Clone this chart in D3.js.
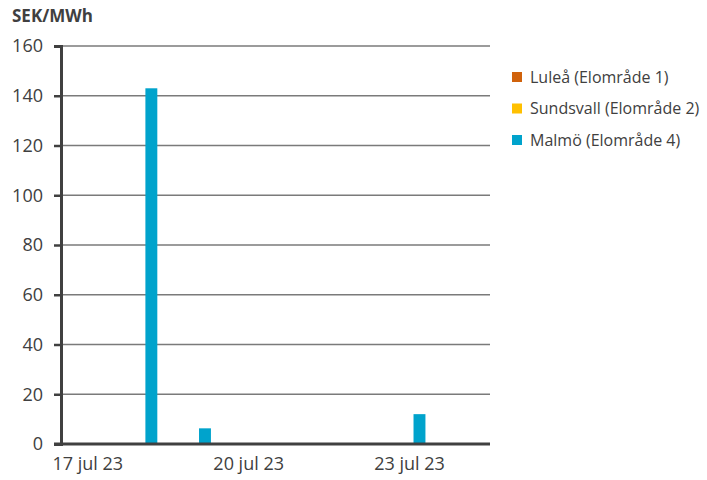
<!DOCTYPE html>
<html>
<head>
<meta charset="utf-8">
<script src="https://cdn.jsdelivr.net/npm/d3@7"></script>
<style>
  body { margin: 0; background: #fff; }
  text { font-family: "Open Sans", sans-serif; fill: #404040; }
</style>
</head>
<body>
<div id="chart"></div>
<script>
const WIDTH = 707;
const HEIGHT = 480;

const days = ["17 jul 23", "18 jul 23", "19 jul 23", "20 jul 23", "21 jul 23", "22 jul 23", "23 jul 23", "24 jul 23"];
const shownDays = ["17 jul 23", "20 jul 23", "23 jul 23"];
const seriesNames = ["Luleå (Elområde 1)", "Sundsvall (Elområde 2)", "Malmö (Elområde 4)"];
const seriesColors = ["#d0620c", "#ffc000", "#00a3cc"];
const lulea = [0, 0, 0, 0, 0, 0, 0, 0];
const sundsvall = [0, 0, 0, 0, 0, 0, 0, 0];
const malmo = [0, 143, 6.3, 0, 0, 0, 12, 0];
const yTicks = [0, 20, 40, 60, 80, 100, 120, 140, 160];

function main(){
    let series = [lulea, sundsvall, malmo];
    let margin = {left: 61, right: 217, top: 46, bottom: 36};

    let svg = d3.select("#chart")
        .append("svg")
        .attr("width", WIDTH)
        .attr("height", HEIGHT);

    let x = d3.scaleBand()
        .domain(days)
        .range([margin.left, WIDTH - margin.right]);

    // series bars sit side by side, group a bit left of the day centre
    let xInner = d3.scaleBand()
        .domain(seriesNames)
        .range([-2, x.bandwidth() - 2])
        .paddingInner(0)
        .paddingOuter(0.75);

    let y = d3.scaleLinear()
        .domain([0, 160])
        .range([HEIGHT - margin.bottom, margin.top]);

    // gridlines
    svg.append("g")
        .selectAll("line")
        .data(yTicks.slice(1))
        .enter()
        .append("line")
        .attr("x1", margin.left)
        .attr("x2", WIDTH - margin.right)
        .attr("y1", d => y(d))
        .attr("y2", d => y(d))
        .style("stroke", "#7a7a7a")
        .style("stroke-width", 1.5);

    // bars
    series.forEach((vals, s) => {
        svg.append("g")
            .selectAll("rect")
            .data(vals)
            .enter()
            .append("rect")
            .attr("x", (d, i) => x(days[i]) + xInner(seriesNames[s]))
            .attr("width", xInner.bandwidth())
            .attr("y", d => y(d))
            .attr("height", d => y(0) - y(d))
            .style("fill", seriesColors[s]);
    });

    // y axis
    let yAxis = svg.append("g")
        .attr("transform", `translate(${margin.left},0)`)
        .call(d3.axisLeft(y).tickValues(yTicks).tickSize(7).tickPadding(11));
    yAxis.select(".domain").style("stroke", "#404040").style("stroke-width", 3);
    yAxis.selectAll(".tick line").style("stroke", "#404040").style("stroke-width", 2.5);
    yAxis.selectAll("text").style("font-size", "18px").style("fill", "#404040");

    // x axis
    let xAxis = svg.append("g")
        .attr("transform", `translate(0,${y(0)})`)
        .call(d3.axisBottom(x).tickValues(shownDays).tickSize(0).tickPadding(13));
    xAxis.select(".domain")
        .attr("d", `M${margin.left - 7},0H${WIDTH - margin.right}`)
        .style("stroke", "#404040").style("stroke-width", 3);
    xAxis.selectAll("text").style("font-size", "18px").style("fill", "#404040");

    // title
    svg.append("text")
        .attr("x", 12)
        .attr("y", 22)
        .style("font-size", "17px")
        .style("font-weight", "bold")
        .text("SEK/MWh");

    // legend
    let legend = svg.append("g")
        .selectAll("g")
        .data(seriesNames)
        .enter()
        .append("g")
        .attr("transform", (d, i) => `translate(512,${72 + i * 31.5})`);
    legend.append("rect")
        .attr("width", 10)
        .attr("height", 10)
        .style("fill", (d, i) => seriesColors[i]);
    legend.append("text")
        .attr("x", 18)
        .attr("y", 10.5)
        .style("font-size", "16px")
        .text(d => d);
}

window.addEventListener("load", main);
</script>
</body>
</html>
